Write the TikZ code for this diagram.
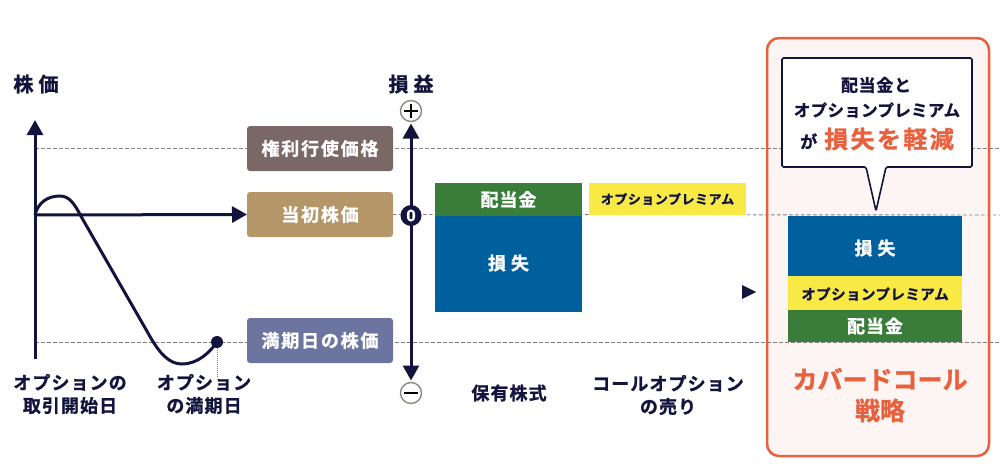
\documentclass[tikz,border=0pt]{standalone}
\usepackage{fontspec}
\setmainfont{Noto Sans CJK JP}[BoldFont={Noto Sans CJK JP Bold}, BoldFeatures={FakeBold=1.2}]
\usetikzlibrary{arrows.meta,calc,shapes.geometric}
\definecolor{navy}{HTML}{12143E}
\definecolor{cstrike}{HTML}{7A6866}
\definecolor{cinit}{HTML}{B59668}
\definecolor{cexp}{HTML}{6C74A0}
\definecolor{cgreen}{HTML}{3A7D3B}
\definecolor{cblue}{HTML}{00609E}
\definecolor{cyellow}{HTML}{F9E945}
\definecolor{corange}{HTML}{E8603C}
\definecolor{cpink}{HTML}{FDF5F3}
\definecolor{cgray}{HTML}{8A8A80}
\definecolor{cdash}{HTML}{808080}
\newcommand{\fsz}[1]{\fontsize{#1}{#1}\selectfont}
\newcommand{\lsp}[1]{\addfontfeature{LetterSpace=#1}}
\begin{document}
\begin{tikzpicture}[x=1pt,y=-1pt,
  every node/.style={font=\bfseries, inner sep=0pt, outer sep=0pt},
  dashline/.style={draw=cdash, line width=0.9pt, dash pattern=on 3.5pt off 2.5pt},
  axisline/.style={draw=navy, line width=3pt},
  tip/.style={-{Triangle[width=16pt,length=15pt]}},
  lbox/.style={fill=#1, rounded corners=3pt, minimum width=146pt, minimum height=45pt, text=white, font=\bfseries\fsz{18}\lsp{10}},
  bar/.style={fill=#1, anchor=north west, text=white},
  navytext/.style={text=navy, align=center},
  pmcircle/.style={circle, draw=cgray, line width=1.4pt, fill=white, minimum size=21pt},
]
\useasboundingbox (0,0) rectangle (1000,463);

% orange strategy panel (fill)
\fill[cpink, rounded corners=12pt] (767,38) rectangle (989,456);

% dashed reference lines
\coordinate (d1l) at (35,148.5); \coordinate (d1r) at (1000,148.5);
\coordinate (d3l) at (35,342); \coordinate (d3r) at (1000,342);
\coordinate (d2r) at (1000,215);
\draw[dashline] (d1l) -- (d1r);
\draw[dashline] (d3l) -- (d3r);

% left boxes
\node[lbox=cstrike] (strike) at (320,148.5) {権利行使価格};
\node[lbox=cinit] (init) at (320,214.5) {当初株価};
\node[lbox=cexp] (expiry) at (320,340.5) {満期日の株価};
\draw[dashline] (init.east) -- (d2r);

% orange panel border
\draw[corange, line width=2.5pt, rounded corners=12pt] (767,38) rectangle (989,456);

% price axis
\node[text=navy, font=\bfseries\fsz{20}] (pricelbl) at (36,84) {株\hspace{5pt}価};
\coordinate (o) at (35,215);
\coordinate (ytop) at (35,120);
\coordinate (ybot) at (35,359);
\draw[axisline, tip] (ybot) -- (ytop);
\draw[axisline, tip] (o) -- (init.west);

% price path
\node[circle, fill=navy, minimum size=12pt] (dot) at (217,342) {};
\coordinate (dotend) at (217,378);
\draw[cdash, line width=0.8pt, dash pattern=on 1pt off 1pt] (dot.south) -- (dotend);
\draw[navy, line width=3pt, line cap=round]
  (o) .. controls (38,203) and (47,196) .. (60,196)
      .. controls (70,196) and (75,205) .. (82,218)
      -- (148,333)
      .. controls (160,355) and (170,364) .. (182,364)
      .. controls (198,364) and (210,352) .. (dot.center);

% P/L axis
\node[text=navy, font=\bfseries\fsz{20}] (pllbl) at (411,84) {損\hspace{5pt}益};
\node[pmcircle] (plus) at (411,111) {};
\draw[black, line width=1.3pt] ($(plus.center)+(-7,0)$) -- ($(plus.center)+(7,0)$);
\draw[black, line width=1.3pt] ($(plus.center)+(0,-7)$) -- ($(plus.center)+(0,7)$);
\node[pmcircle] (minus) at (411,393) {};
\draw[black, line width=1.3pt] ($(minus.center)+(-7,0)$) -- ($(minus.center)+(7,0)$);
\draw[axisline, {Triangle[width=16pt,length=15pt]}-{Triangle[width=16pt,length=15pt]}] ($(plus.south)+(0,2)$) -- ($(minus.north)+(0,-2)$);
\node[circle, fill=navy, minimum size=21pt, text=white, font=\bfseries\fsz{16}] (zero) at (411,215.5) {0};

% holding stock bars
\node[bar=cgreen, minimum width=147pt, minimum height=33pt] (div1) at (435,183) {};
\node[text=white, font=\bfseries\fsz{18}\lsp{5}] (div1t) at (div1.center) {配当金};
\node[bar=cblue, minimum width=147pt, minimum height=96pt] (loss1) at (435,216) {};
\node[text=white, font=\bfseries\fsz{18}] (loss1t) at ($(loss1.north)+(0,47)$) {損\hspace{5pt}失};

% option premium bar
\node[bar=cyellow, minimum width=157pt, minimum height=32pt] (prem1) at (589,183) {};
\node[text=navy, font=\bfseries\fsz{13}\lsp{4}] (prem1t) at (prem1.center) {オプションプレミアム};

% small right arrow
\coordinate (a1) at (742,285); \coordinate (a2) at (756,292); \coordinate (a3) at (742,299);
\fill[navy] (a1) -- (a2) -- (a3) -- cycle;

% result stack
\node[bar=cblue, minimum width=174pt, minimum height=60pt] (loss2) at (788,216) {};
\node[text=white, font=\bfseries\fsz{18}] (loss2t) at ($(loss2.center)+(0,2)$) {損\hspace{5pt}失};
\node[bar=cyellow, minimum width=174pt, minimum height=34pt] (prem2) at (788,276) {};
\node[text=navy, font=\bfseries\fsz{14.5}\lsp{3}] (prem2t) at ($(prem2.center)+(0,1)$) {オプションプレミアム};
\node[bar=cgreen, minimum width=174pt, minimum height=32pt] (div2) at (788,310) {};
\node[text=white, font=\bfseries\fsz{18}\lsp{5}] (div2t) at (div2.center) {配当金};

% callout
\coordinate (cb1) at (782,58); \coordinate (cb2) at (972,58);
\coordinate (cb3) at (972,167); \coordinate (cb4) at (886,167);
\coordinate (ctip) at (876,211); \coordinate (cb5) at (866,167);
\coordinate (cb6) at (782,167);
\draw[navy, fill=white, line width=1.6pt, rounded corners=1.5pt]
  (cb1) -- (cb2) -- (cb3) -- (cb4) -- (ctip) -- (cb5) -- (cb6) -- cycle;
\node[text=navy, font=\bfseries\fsz{17}\lsp{4}] (c1) at (876,85) {配当金と};
\node[text=navy, font=\bfseries\fsz{16.5}\lsp{2}] (c2) at (877,110) {オプションプレミアム};
\node[text=navy, font=\bfseries\fsz{17}] (c3) at (877,139) {が\hspace{7pt}{\color{corange}\fsz{24}\lsp{10}損失を軽減}};

% bottom labels
\node[navytext, font=\bfseries\fsz{18}\lsp{6}, align=center] (lstart) at (70,394)
  {オプションの\\[5pt]取引開始日};
\node[navytext, font=\bfseries\fsz{18}\lsp{6}, align=center] (lexp) at (204,394)
  {オプション\\[5pt]の満期日};
\node[navytext, font=\bfseries\fsz{18}\lsp{6}] (lhold) at (509,393) {保有株式};
\node[navytext, font=\bfseries\fsz{18}\lsp{6}, align=center] (lcall) at (668,395)
  {コールオプション\\[5pt]の売り};
\node[text=corange, align=center, font=\bfseries\fsz{25}] (lcov) at (880,395)
  {カバードコール\\[6pt]戦略};
\end{tikzpicture}
\end{document}
